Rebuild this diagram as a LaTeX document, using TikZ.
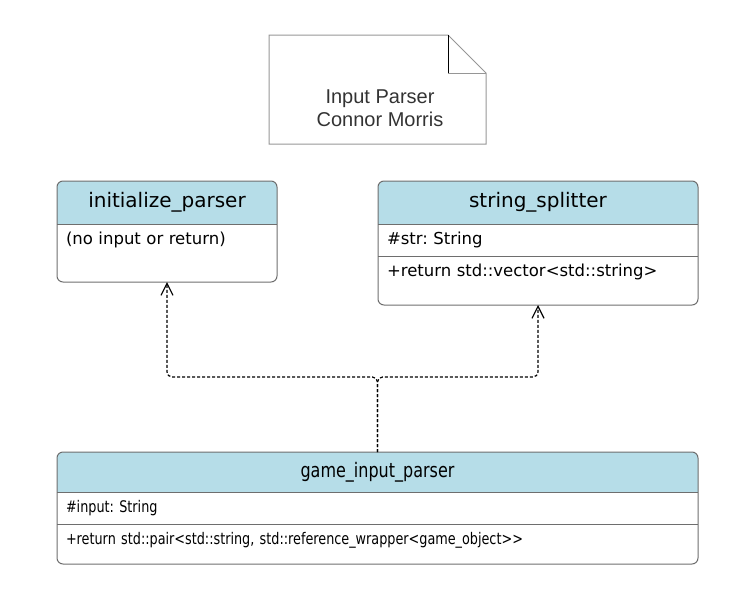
\documentclass[tikz,border=0pt]{standalone}
\usepackage{fontspec}
\setmainfont{DejaVu Sans}
\newfontfamily\notefont{Liberation Sans}
\newfontfamily\condfont{DejaVu Sans}[FakeStretch=0.8]
\usetikzlibrary{arrows.meta,positioning,backgrounds}
\definecolor{headblue}{RGB}{182,221,232}
\definecolor{boxgray}{RGB}{110,110,110}
\definecolor{notegray}{RGB}{150,150,150}
\definecolor{notetext}{RGB}{51,51,51}
\frenchspacing

\begin{document}
\begin{tikzpicture}[x=1pt, y=-1pt, node distance=0pt, auto]
        \tikzstyle{header} = [rectangle, inner sep=0pt, outer sep=0pt, minimum height=43pt, font=\fontsize{20}{24}\selectfont]
        \tikzstyle{member} = [rectangle, fill=white, inner xsep=9pt, inner ysep=0pt, outer sep=0pt, minimum height=32pt, align=left, font=\fontsize{16.5}{19}\selectfont]
        \tikzstyle{outline} = [draw=boxgray, line width=1pt]
        \tikzstyle{line} = [draw, line width=1.2pt, dash pattern=on 3pt off 2pt, rounded corners=5pt, -{Straight Barb[length=12pt, width=12pt]}]
        \useasboundingbox (0,0) rectangle (750,600);

        % note
        \draw [draw=notegray, line width=1pt] (269,35) -- (448,35) -- (486,73) -- (486,144) -- (269,144) -- cycle;
        \draw [draw=notegray, line width=1pt] (448,73) -- (486,73);
        \draw [line width=1pt] (448,35) -- (448,73);
        \node [font=\notefont\fontsize{20}{23}\selectfont, text=notetext, align=center] (note) at (380,108) {Input Parser\\Connor Morris};

        % classes
        \node [header, minimum width=220pt] (init) at (167,202.5) {initialize\_parser};
        \node [member, text width=202pt, below=0pt of init] (initbody) {(no input or return)};
        \coordinate (initbot) at ([yshift=-26pt]initbody.south);

        \node [header, minimum width=320pt] (split) at (538,202.5) {string\_splitter};
        \node [member, text width=302pt, below=0pt of split] (splitattr) {\#str: String};
        \node [member, text width=302pt, below=0pt of splitattr] (splitret) {+return std::vector<std::string>};
        \coordinate (splitbot) at ([yshift=-17pt]splitret.south);

        \node [header, minimum width=641pt, minimum height=40pt, font=\condfont\fontsize{20}{24}\selectfont] (game) at (377.5,472) {game\_input\_parser};
        \node [member, text width=623pt, below=0pt of game, font=\condfont\fontsize{16}{19}\selectfont] (gameattr) {\#input: String};
        \node [member, text width=623pt, below=0pt of gameattr, font=\condfont\fontsize{16}{19}\selectfont] (gameret) {+return std::pair<std::string, std::reference\_wrapper<game\_object>{}>};
        \coordinate (gamebot) at ([yshift=-8pt]gameret.south);

        \begin{scope}[on background layer]
            \fill [headblue, rounded corners=6pt] (init.north west) rectangle ([yshift=-8pt]init.south east);
            \fill [headblue, rounded corners=6pt] (split.north west) rectangle ([yshift=-8pt]split.south east);
            \fill [headblue, rounded corners=6pt] (game.north west) rectangle ([yshift=-8pt]game.south east);
        \end{scope}

        \draw [outline, rounded corners=6pt] (init.north west) rectangle (init.east |- initbot);
        \draw [outline] (init.south west) -- (init.south east);
        \draw [outline, rounded corners=6pt] (split.north west) rectangle (split.east |- splitbot);
        \draw [outline] (split.south west) -- (split.south east);
        \draw [outline] (splitattr.south west) -- (splitattr.south east);
        \draw [outline, rounded corners=6pt] (game.north west) rectangle (game.east |- gamebot);
        \draw [outline] (game.south west) -- (game.south east);
        \draw [outline] (gameattr.south west) -- (gameattr.south east);

        \path [line] (game.north) -- ++(0,-75) -| (initbot);
        \path [line] (game.north) -- ++(0,-75) -| (splitbot);
    \end{tikzpicture}
\end{document}
